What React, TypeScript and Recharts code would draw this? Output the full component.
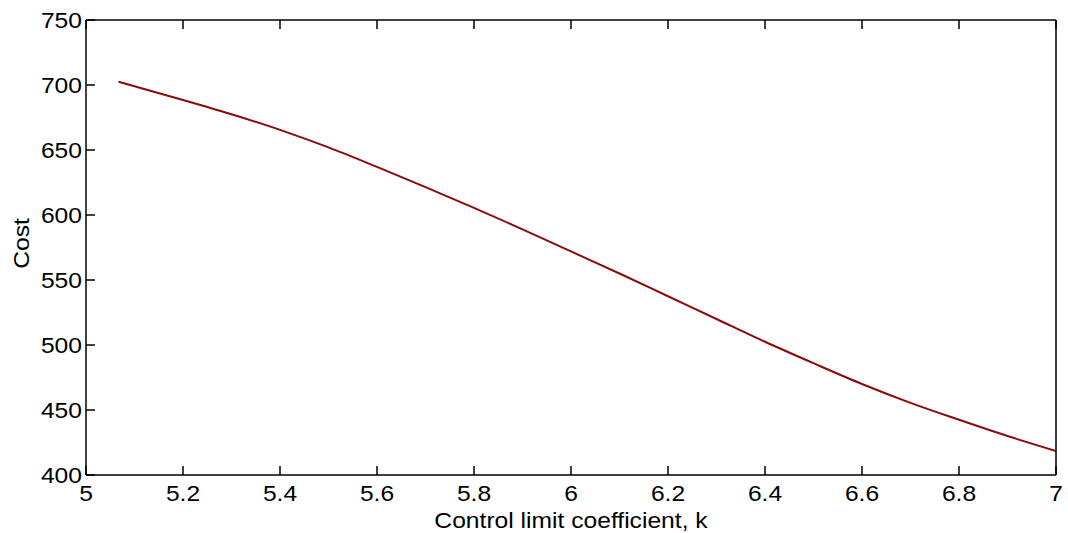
import { LineChart, Line, XAxis, YAxis, Label } from 'recharts';

const kValues = [5.067, 5.1, 5.2, 5.3, 5.4, 5.5, 5.6, 5.7, 5.8, 5.9, 6.0, 6.1, 6.2, 6.3, 6.4, 6.5, 6.6, 6.7, 6.8, 6.9, 7.0];
const costValues = [702.5, 699, 688.5, 677.5, 665.5, 652, 637, 621.5, 605.5, 589, 572, 555, 537.5, 520, 502.5, 486, 470, 455.5, 442.5, 430, 418.5];
const xTicks = [5, 5.2, 5.4, 5.6, 5.8, 6, 6.2, 6.4, 6.6, 6.8, 7];
const yTicks = [400, 450, 500, 550, 600, 650, 700, 750];

const data = kValues.map((k, i) => ({ k, cost: costValues[i] }));

const FONT = '"Liberation Sans", Arial, Helvetica, sans-serif';
const FS = 22;
const SX = 1.12;
const TICK_LEN = 9;

function StretchText({ x, y, anchor, children, rotate }: any) {
  const t = rotate ? `translate(${x},${y}) rotate(${rotate}) scale(${SX},1)` : `translate(${x},${y}) scale(${SX},1)`;
  return (
    <text transform={t} x={0} y={0} textAnchor={anchor} fontFamily={FONT} fontSize={FS} fill="#000">
      {children}
    </text>
  );
}

function BottomTick({ x, y, payload }: any) {
  return (
    <g>
      <line x1={x} x2={x} y1={y} y2={y - TICK_LEN} stroke="#000" strokeWidth={1.5} />
      <StretchText x={x} y={y + 26} anchor="middle">{String(payload.value)}</StretchText>
    </g>
  );
}

function TopTick({ x, y }: any) {
  return <line x1={x} x2={x} y1={y} y2={y + TICK_LEN} stroke="#000" strokeWidth={1.5} />;
}

function LeftTick({ x, y, payload }: any) {
  return (
    <g>
      <line x1={x} x2={x + TICK_LEN} y1={y} y2={y} stroke="#000" strokeWidth={1.5} />
      <StretchText x={x - 4} y={y + 8} anchor="end">{String(payload.value)}</StretchText>
    </g>
  );
}

function RightTick({ x, y }: any) {
  return <line x1={x} x2={x - TICK_LEN} y1={y} y2={y} stroke="#000" strokeWidth={1.5} />;
}

function XTitle({ viewBox }: any) {
  return (
    <StretchText x={viewBox.x + viewBox.width / 2} y={viewBox.y + 53} anchor="middle">
      Control limit coefficient, k
    </StretchText>
  );
}

function YTitle({ viewBox }: any) {
  return (
    <StretchText x={29} y={viewBox.y + viewBox.height / 2 - 4} anchor="middle" rotate={-90}>
      Cost
    </StretchText>
  );
}

export default function App() {
  return (
    <div style={{ position: 'absolute', left: 0, top: 0, background: '#fff' }}>
      <LineChart width={1068} height={533} data={data} margin={{ top: 19, right: 11, left: 0, bottom: 0 }}>
        <XAxis
          dataKey="k"
          type="number"
          domain={[5, 7]}
          ticks={xTicks}
          height={58}
          tickSize={0}
          tickMargin={0}
          tick={<BottomTick />}
          axisLine={{ stroke: '#000', strokeWidth: 1.5 }}
          allowDataOverflow
        >
          <Label content={<XTitle />} />
        </XAxis>
        <XAxis
          xAxisId="top"
          orientation="top"
          dataKey="k"
          type="number"
          domain={[5, 7]}
          ticks={xTicks}
          height={1}
          tickSize={0}
          tickMargin={0}
          tick={<TopTick />}
          axisLine={{ stroke: '#000', strokeWidth: 1.5 }}
        />
        <YAxis
          type="number"
          domain={[400, 750]}
          ticks={yTicks}
          width={86}
          tickSize={0}
          tickMargin={0}
          tick={<LeftTick />}
          axisLine={{ stroke: '#000', strokeWidth: 1.5 }}
          allowDataOverflow
        >
          <Label content={<YTitle />} />
        </YAxis>
        <YAxis
          yAxisId="right"
          orientation="right"
          type="number"
          domain={[400, 750]}
          ticks={yTicks}
          width={1}
          tickSize={0}
          tickMargin={0}
          tick={<RightTick />}
          axisLine={{ stroke: '#000', strokeWidth: 1.5 }}
        />
        <Line
          dataKey="cost"
          type="monotone"
          stroke="#8b0a0a"
          strokeWidth={2}
          dot={false}
          isAnimationActive={false}
        />
      </LineChart>
    </div>
  );
}
